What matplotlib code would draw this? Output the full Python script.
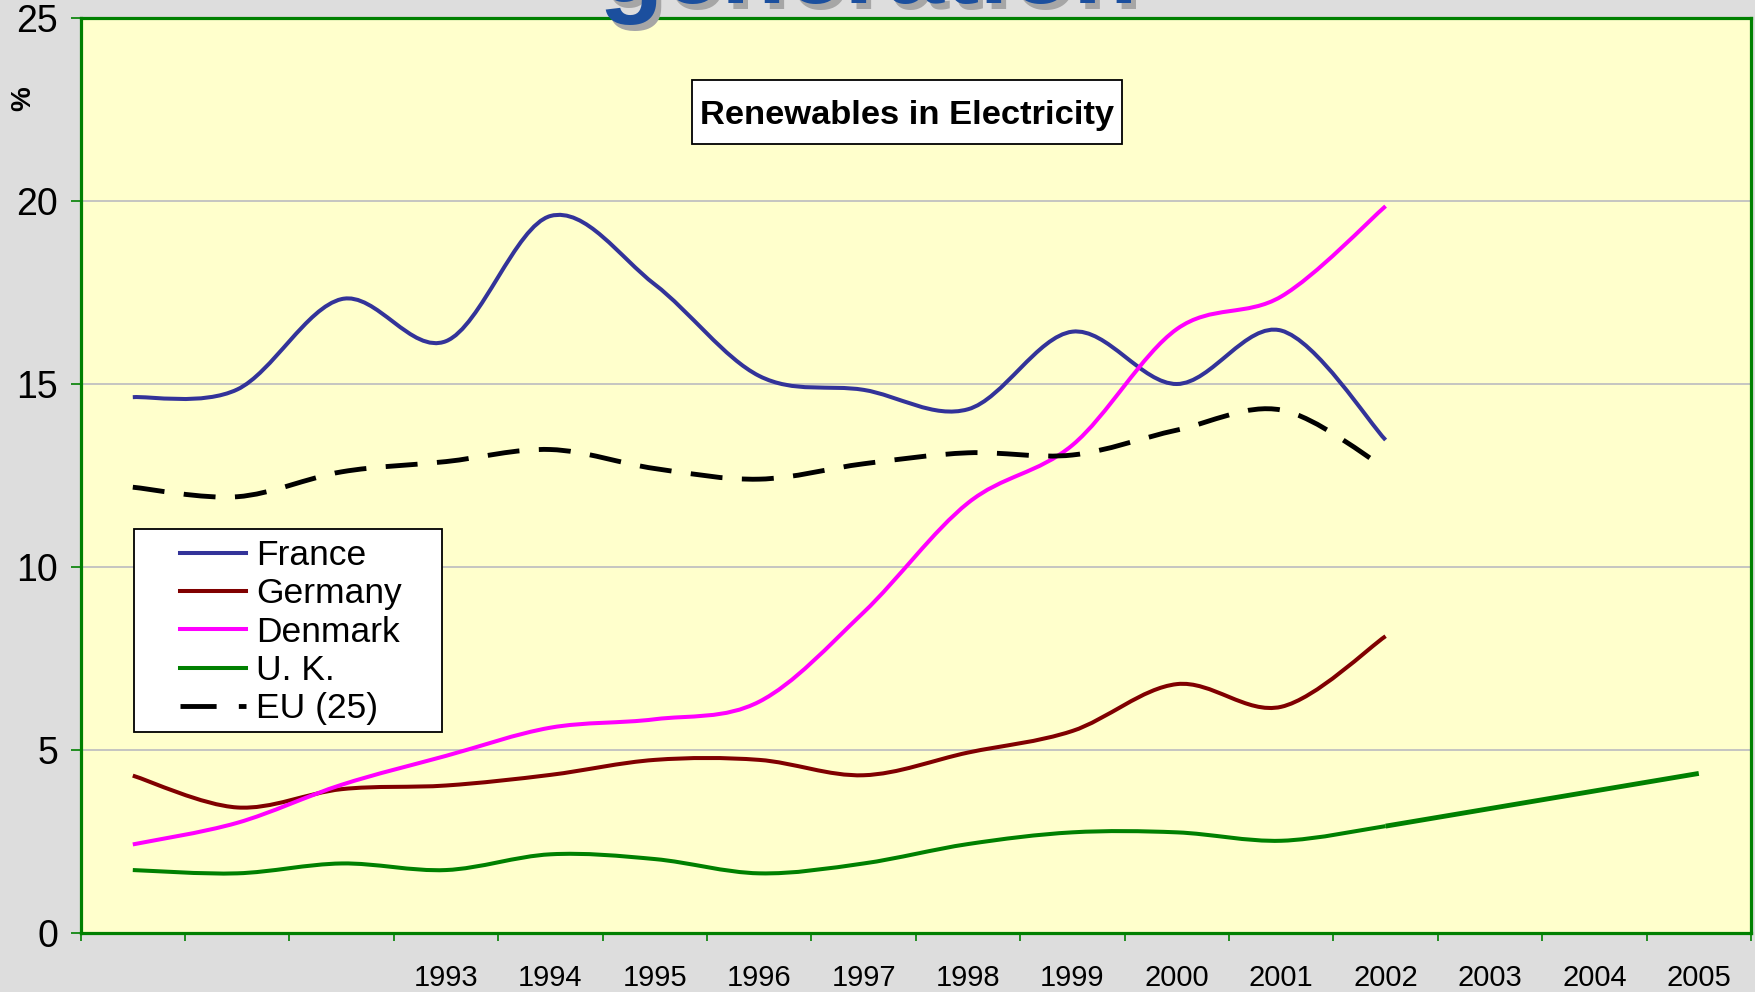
import numpy as np
import matplotlib
matplotlib.use("Agg")
import matplotlib.pyplot as plt
from matplotlib.path import Path
from matplotlib.patches import PathPatch, Rectangle
from matplotlib.lines import Line2D

plt.rcParams['font.family'] = ['Liberation Sans', 'DejaVu Sans']

# ---------------- data ----------------
categories = ["1990", "1991", "1992", "1993", "1994", "1995", "1996", "1997",
              "1998", "1999", "2000", "2001", "2002", "2003", "2004", "2005"]
tick_labels = ["", "", "", "1993", "1994", "1995", "1996", "1997",
               "1998", "1999", "2000", "2001", "2002", "2003", "2004", "2005"]

france = [14.64, 14.85, 17.32, 16.17, 19.59, 17.72, 15.22, 14.84, 14.31, 16.43, 15.00, 16.46, 13.47]
germany = [4.30, 3.43, 3.93, 4.03, 4.32, 4.73, 4.73, 4.31, 4.93, 5.52, 6.80, 6.18, 8.11]
denmark = [2.42, 3.01, 4.05, 4.84, 5.61, 5.84, 6.32, 8.76, 11.75, 13.33, 16.50, 17.39, 19.86]
uk = [1.72, 1.63, 1.90, 1.72, 2.15, 2.02, 1.63, 1.90, 2.43, 2.75, 2.75, 2.52, 2.92]
uk_projection_years = ["2002", "2005"]
uk_projection = [2.92, 4.36]
eu25 = [12.18, 11.92, 12.60, 12.88, 13.21, 12.69, 12.40, 12.82, 13.12, 13.06, 13.74, 14.29, 12.70]

series_names = ["France", "Germany", "Denmark", "U. K.", "EU (25)"]
series_colors = ["#333399", "#800000", "#FF00FF", "#008000", "#000000"]

W, H = 1756, 992


def smooth_path(xs, ys):
    """Excel-like smoothed line: Catmull-Rom converted to cubic Bezier."""
    pts = np.column_stack([xs, ys]).astype(float)
    n = len(pts)
    verts = [pts[0]]
    codes = [Path.MOVETO]
    for i in range(n - 1):
        p0 = pts[i - 1] if i > 0 else pts[i]
        p1 = pts[i]
        p2 = pts[i + 1]
        p3 = pts[i + 2] if i + 2 < n else pts[i + 1]
        c1 = p1 + (p2 - p0) / 6.0
        c2 = p2 - (p3 - p1) / 6.0
        verts += [c1, c2, p2]
        codes += [Path.CURVE4] * 3
    return Path(verts, codes)


fig = plt.figure(figsize=(W / 100, H / 100), dpi=100, facecolor="#DDDDDD")
ax = fig.add_axes([80.6 / W, 1 - 933 / H, 1670.4 / W, 915 / H])
ax.set_facecolor("#FFFFCC")
ax.set_xlim(-0.5, len(categories) - 0.5)
ax.set_ylim(0, 25)

green = "#008000"
for s in ax.spines.values():
    s.set_color(green)
    s.set_linewidth(2.3)

# y axis
ax.set_yticks([0, 5, 10, 15, 20, 25])
ax.yaxis.grid(True, color="#C0C0C0", linewidth=1.3)
ax.set_axisbelow(True)
ax.tick_params(axis="y", which="major", length=7.2, width=1.2, color=green,
               direction="out", labelsize=27, pad=9)

# x axis: ticks on category boundaries, labels in the middle of categories
ax.set_xticks(np.arange(-0.5, len(categories), 1.0))
ax.set_xticklabels([])
ax.set_xticks(np.arange(len(categories)), minor=True)
ax.set_xticklabels(tick_labels, minor=True)
ax.tick_params(axis="x", which="major", length=5.8, width=1.2, color=green,
               direction="out")
ax.tick_params(axis="x", which="minor", length=0, pad=22, labelsize=21)

xs_main = [categories.index(c) for c in categories[:len(france)]]
lw = 2.9
data = [france, germany, denmark, uk]
for vals, col in zip(data, series_colors[:4]):
    ax.add_patch(PathPatch(smooth_path(xs_main, vals), fill=False,
                           edgecolor=col, linewidth=lw, zorder=3,
                           capstyle="butt", joinstyle="round"))

# UK projection
xs_proj = [categories.index(c) for c in uk_projection_years]
ax.add_patch(PathPatch(smooth_path(xs_proj, uk_projection), fill=False,
                       edgecolor=series_colors[3], linewidth=3.5, zorder=3,
                       capstyle="butt"))

# EU (25) dashed
eu_lw = 3.5
eu_dash = (0, (23 / eu_lw, 14 / eu_lw))
ax.add_patch(PathPatch(smooth_path(xs_main, eu25), fill=False,
                       edgecolor="black", linewidth=eu_lw, linestyle=eu_dash,
                       zorder=3, capstyle="butt"))

# y label "%"
fig.text(23.7 / W, 1 - 98.7 / H, "%", rotation=90, fontsize=20,
         fontweight="bold", ha="center", va="center")

# chart title in a box
fig.add_artist(Rectangle((692 / W, 1 - 144 / H), 430 / W, 64 / H,
                         transform=fig.transFigure, facecolor="white",
                         edgecolor="black", linewidth=1.3, zorder=5))
fig.text(907 / W, 1 - 124 / H, "Renewables in Electricity", fontsize=24.8,
         fontweight="bold", ha="center", va="baseline", zorder=6)

# legend box + legend
fig.add_artist(Rectangle((134 / W, 1 - 731.7 / H), 307.7 / W, 202.7 / H,
                         transform=fig.transFigure, facecolor="white",
                         edgecolor="black", linewidth=1.3, zorder=4))
handles = [Line2D([], [], color=c, linewidth=lw) for c in series_colors[:4]]
handles.append(Line2D([], [], color="black", linewidth=eu_lw,
                      linestyle=(0, (26 / eu_lw, 16 / eu_lw)),
                      dash_capstyle="butt"))
fig.legend(handles, series_names, loc="upper left",
           bbox_to_anchor=(180 / W, 1 - 539 / H), frameon=False, fontsize=25.5,
           handlelength=1.85, handletextpad=0.3, labelspacing=0.15,
           borderpad=0, borderaxespad=0)

# cut-off slide heading above the chart
fig.text(599 / W + 5 / W, 1 - 3 / H - 6 / H, "generation", fontsize=76,
         fontweight="bold", color="#A6A6A6", ha="left", va="baseline", zorder=7)
fig.text(599 / W, 1 - 3 / H, "generation", fontsize=76, fontweight="bold",
         color="#1B4F9E", ha="left", va="baseline", zorder=8)

fig.savefig("out.png", dpi=100, facecolor=fig.get_facecolor())
